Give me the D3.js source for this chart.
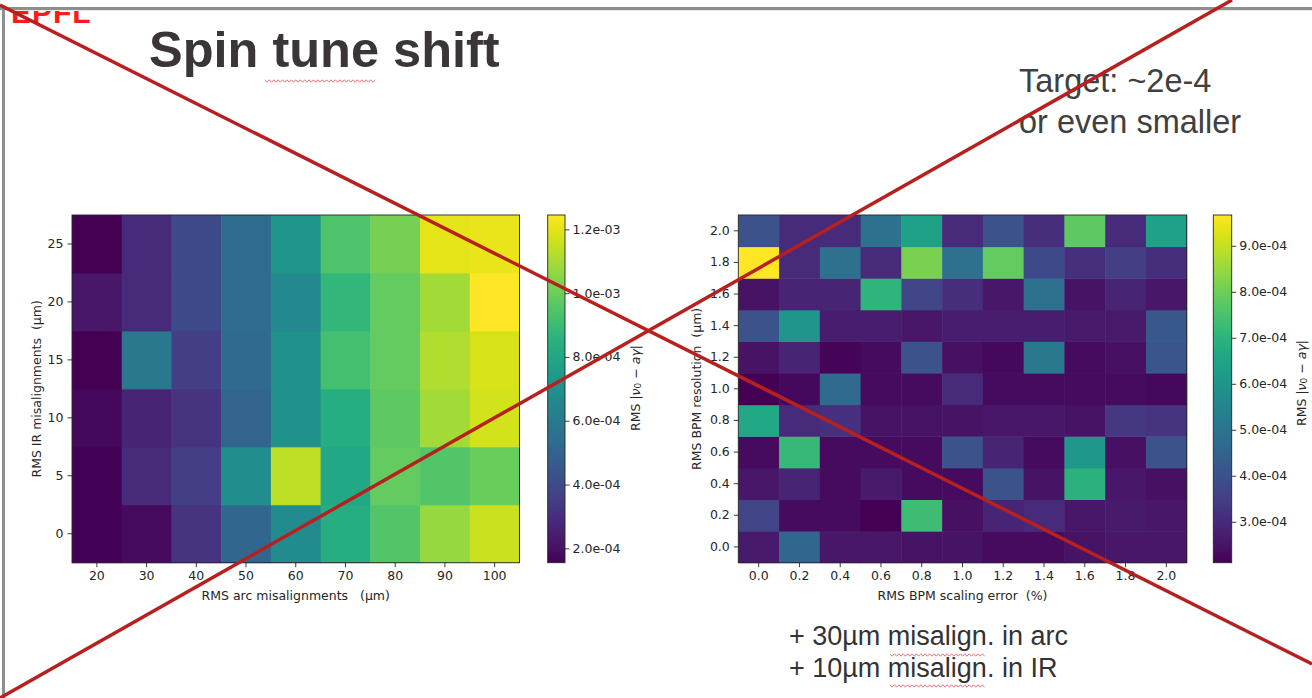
<!DOCTYPE html>
<html>
<head>
<meta charset="utf-8">
<script src="https://cdn.jsdelivr.net/npm/d3@7"></script>
<style>
  html, body { margin: 0; padding: 0; background: #fff; }
  svg { display: block; }
</style>
</head>
<body>
<svg id="slide" width="1312" height="698"></svg>
<script>
// ---- Left map: spin tune shift vs. arc / IR misalignments (values in units of 1e-4)
const arcMis = [20, 30, 40, 50, 60, 70, 80, 90, 100];
const irMis = [0, 5, 10, 15, 20, 25];
const irRows = [
  [1.62, 1.88, 3.19, 5.15, 6.78, 8.31, 9.51, 10.71, 11.58],   // IR 0
  [1.60, 2.86, 3.51, 6.89, 11.36, 8.09, 9.83, 9.51, 9.94],    // IR 5
  [1.77, 2.64, 3.19, 5.04, 7.00, 8.31, 9.73, 10.92, 11.69],   // IR 10
  [1.55, 5.91, 3.51, 5.26, 7.00, 9.18, 9.83, 11.14, 11.80],   // IR 15
  [2.20, 2.86, 3.95, 5.37, 6.67, 8.74, 9.83, 10.92, 12.45],   // IR 20
  [1.58, 2.86, 3.95, 5.37, 7.22, 9.40, 10.16, 12.00, 12.10]   // IR 25
];
const irTicks = [0, 5, 10, 15, 20, 25];
const leftCbTicks = [2e-4, 4e-4, 6e-4, 8e-4, 1.0e-3, 1.2e-3];
const leftCbLabels = ["2.0e-04", "4.0e-04", "6.0e-04", "8.0e-04", "1.0e-03", "1.2e-03"];

// ---- Right map: spin tune shift vs. BPM scaling error / resolution (units of 1e-4)
const bpmScale = ["0.0", "0.2", "0.4", "0.6", "0.8", "1.0", "1.2", "1.4", "1.6", "1.8", "2.0"];
const bpmRes = ["0.0", "0.2", "0.4", "0.6", "0.8", "1.0", "1.2", "1.4", "1.6", "1.8", "2.0"];
const bpmRows = [
  [2.64, 4.60, 2.56, 2.56, 2.49, 2.49, 2.34, 2.34, 2.49, 2.56, 2.56], // res 0.0
  [3.62, 2.34, 2.34, 2.11, 7.33, 2.41, 2.87, 3.02, 2.56, 2.64, 2.56], // res 0.2
  [2.56, 2.87, 2.34, 2.64, 2.34, 2.34, 4.00, 2.49, 6.95, 2.56, 2.41], // res 0.4
  [2.34, 7.18, 2.34, 2.34, 2.34, 4.00, 2.87, 2.34, 6.12, 2.41, 4.00], // res 0.6
  [6.65, 3.02, 3.17, 2.49, 2.49, 2.49, 2.56, 2.56, 2.49, 3.32, 3.24], // res 0.8
  [2.11, 2.26, 4.68, 2.34, 2.34, 3.02, 2.34, 2.34, 2.34, 2.34, 2.26], // res 1.0
  [2.49, 2.87, 2.19, 2.34, 4.00, 2.41, 2.26, 5.13, 2.34, 2.41, 4.08], // res 1.2
  [4.00, 6.04, 2.71, 2.71, 2.56, 2.71, 2.71, 2.71, 2.64, 2.64, 4.15], // res 1.4
  [2.49, 2.87, 2.87, 7.02, 3.62, 3.09, 2.56, 4.91, 2.49, 2.87, 2.56], // res 1.6
  [9.67, 3.02, 4.91, 3.02, 8.16, 4.91, 7.86, 3.77, 3.17, 3.47, 3.09], // res 1.8
  [4.00, 3.02, 3.02, 4.91, 6.42, 3.02, 4.00, 3.09, 7.78, 3.02, 6.42]  // res 2.0
];
const rightCbTicks = [3e-4, 4e-4, 5e-4, 6e-4, 7e-4, 8e-4, 9e-4];
const rightCbLabels = ["3.0e-04", "4.0e-04", "5.0e-04", "6.0e-04", "7.0e-04", "8.0e-04", "9.0e-04"];

const UNIT = 1e-4;

const svg = d3.select("#slide");
const MPL_FONT = "'DejaVu Sans', sans-serif";
const INK = "#262626";

svg.append("rect").attr("width", 1312).attr("height", 698).attr("fill", "#fff");

// slide frame
svg.append("rect").attr("x", 0).attr("y", 7).attr("width", 1312).attr("height", 3.2).attr("fill", "#8e8e8e");
svg.append("rect").attr("x", 2).attr("y", 7).attr("width", 3).attr("height", 691).attr("fill", "#8e8e8e");

// EPFL mark, its upper part hidden behind the frame
svg.append("clipPath").attr("id", "logoClip")
  .append("rect").attr("x", 0).attr("y", 11).attr("width", 120).attr("height", 20);
svg.append("text")
  .attr("clip-path", "url(#logoClip)")
  .attr("x", 11).attr("y", 23)
  .attr("font-family", "'Liberation Sans', Arial, sans-serif")
  .attr("font-weight", 700).attr("font-size", 30)
  .attr("letter-spacing", 1)
  .attr("fill", "#ff1a1a")
  .text("EPFL");

// title
svg.append("text")
  .attr("x", 149).attr("y", 67)
  .attr("font-family", "'Liberation Sans', Arial, sans-serif")
  .attr("font-weight", 700).attr("font-size", 50.5)
  .attr("fill", "#3a3536")
  .text("Spin tune shift");

function squiggle(x0, x1, y) {
  const pts = [];
  let up = true;
  for (let x = x0; x <= x1; x += 2.2) { pts.push([x, y + (up ? -1.2 : 1.2)]); up = !up; }
  svg.append("path").attr("d", d3.line()(pts))
    .attr("fill", "none").attr("stroke", "#e0707a").attr("stroke-width", 1);
}
squiggle(265, 375, 81);

// target note
const note = svg.append("text")
  .attr("font-family", "'Liberation Sans', Arial, sans-serif")
  .attr("font-size", 32.5).attr("fill", "#404040");
note.append("tspan").attr("x", 1019).attr("y", 92).text("Target: ~2e-4");
note.append("tspan").attr("x", 1019).attr("y", 133).text("or even smaller");

// conditions note
const cond = svg.append("text")
  .attr("font-family", "'Liberation Sans', Arial, sans-serif")
  .attr("font-size", 27).attr("fill", "#333");
cond.append("tspan").attr("x", 789).attr("y", 645).text("+ 30µm misalign. in arc");
cond.append("tspan").attr("x", 789).attr("y", 677).text("+ 10µm misalign. in IR");
squiggle(890, 985, 655);
squiggle(890, 985, 686);

// ---------- heatmap with colorbar ----------
function heatmap(cfg) {
  const g = svg.append("g");
  const xs = d3.scaleBand().domain(cfg.xCats).range([cfg.x0, cfg.x1]).padding(0);
  const ys = d3.scaleBand().domain(cfg.yCats.slice().reverse()).range([cfg.y0, cfg.y1]).padding(0);
  const flat = cfg.rows.flat().map(v => v * UNIT);
  const ext = d3.extent(flat);
  const color = d3.scaleSequential(d3.interpolateViridis).domain(ext);

  const cells = [];
  cfg.rows.forEach((row, i) => row.forEach((v, j) => cells.push({ x: cfg.xCats[j], y: cfg.yCats[i], v: v * UNIT })));
  g.selectAll("rect.cell").data(cells).join("rect")
    .attr("class", "cell")
    .attr("x", d => xs(d.x)).attr("y", d => ys(d.y))
    .attr("width", xs.bandwidth() + 0.5).attr("height", ys.bandwidth() + 0.5)
    .attr("fill", d => color(d.v));

  g.append("rect").attr("x", cfg.x0).attr("y", cfg.y0)
    .attr("width", cfg.x1 - cfg.x0).attr("height", cfg.y1 - cfg.y0)
    .attr("fill", "none").attr("stroke", INK).attr("stroke-width", 0.9);

  // axes
  const xAxis = d3.axisBottom(xs).tickSize(4.5).tickPadding(4).tickFormat(cfg.xFmt);
  const gx = g.append("g").attr("transform", `translate(0,${cfg.y1})`).call(xAxis);
  const yAxis = d3.axisLeft(ys).tickSize(4.5).tickPadding(4)
    .tickValues(cfg.yTickVals).tickFormat(cfg.yFmt);
  const gy = g.append("g").attr("transform", `translate(${cfg.x0},0)`).call(yAxis);
  [gx, gy].forEach(a => {
    a.select(".domain").remove();
    a.selectAll("line").attr("stroke", INK).attr("stroke-width", 0.9);
    a.selectAll("text").attr("font-family", MPL_FONT).attr("font-size", 12.5).attr("fill", INK);
  });

  g.append("text")
    .attr("x", (cfg.x0 + cfg.x1) / 2).attr("y", cfg.y1 + 37.5)
    .attr("text-anchor", "middle")
    .attr("font-family", MPL_FONT).attr("font-size", 12.5).attr("fill", INK)
    .attr("xml:space", "preserve")
    .text(cfg.xLabel);
  g.append("text")
    .attr("transform", `translate(${cfg.yLabelX},${(cfg.y0 + cfg.y1) / 2}) rotate(-90)`)
    .attr("text-anchor", "middle")
    .attr("dominant-baseline", "central")
    .attr("font-family", MPL_FONT).attr("font-size", 12.5).attr("fill", INK)
    .attr("xml:space", "preserve")
    .text(cfg.yLabel);

  // colorbar
  const cb = cfg.cb;
  const gradId = cfg.id + "-grad";
  const grad = svg.append("defs").append("linearGradient")
    .attr("id", gradId).attr("x1", 0).attr("y1", 1).attr("x2", 0).attr("y2", 0);
  d3.range(0, 1.0001, 0.02).forEach(t => {
    grad.append("stop").attr("offset", t).attr("stop-color", d3.interpolateViridis(t));
  });
  g.append("rect").attr("x", cb.x0).attr("y", cfg.y0)
    .attr("width", cb.x1 - cb.x0).attr("height", cfg.y1 - cfg.y0)
    .attr("fill", `url(#${gradId})`)
    .attr("stroke", INK).attr("stroke-width", 0.9);
  const cs = d3.scaleLinear().domain(ext).range([cfg.y1, cfg.y0]);
  const cAxis = d3.axisRight(cs).tickValues(cb.ticks).tickSize(4.5).tickPadding(3)
    .tickFormat((d, i) => cb.labels[i]);
  const gc = g.append("g").attr("transform", `translate(${cb.x1},0)`).call(cAxis);
  gc.select(".domain").remove();
  gc.selectAll("line").attr("stroke", INK).attr("stroke-width", 0.9);
  gc.selectAll("text").attr("font-family", MPL_FONT).attr("font-size", 12.5).attr("fill", INK);

  const lab = g.append("text")
    .attr("transform", `translate(${cb.labelX},${cb.labelY}) rotate(-90)`)
    .attr("text-anchor", "middle")
    .attr("dominant-baseline", "central")
    .attr("font-family", MPL_FONT).attr("font-size", 12.5).attr("fill", INK);
  lab.append("tspan").text("RMS |");
  lab.append("tspan").attr("font-style", "italic").text("ν");
  lab.append("tspan").attr("font-size", 9).attr("dy", 3).text("0");
  lab.append("tspan").attr("dy", -3).text(" − ");
  lab.append("tspan").attr("font-style", "italic").text("aγ");
  lab.append("tspan").text("|");
}

heatmap({
  id: "arc",
  xCats: arcMis, yCats: irMis, rows: irRows,
  x0: 72, x1: 519.5, y0: 215, y1: 562.7,
  xFmt: d => d, yTickVals: irTicks, yFmt: d => d,
  xLabel: "RMS arc misalignments   (µm)",
  yLabel: "RMS IR misalignments  (µm)", yLabelX: 36,
  cb: { x0: 547.7, x1: 565, ticks: leftCbTicks, labels: leftCbLabels, labelX: 635, labelY: 388 }
});

heatmap({
  id: "bpm",
  xCats: bpmScale, yCats: bpmRes, rows: bpmRows,
  x0: 738.3, x1: 1186.7, y0: 215, y1: 562.7,
  xFmt: d => d, yTickVals: bpmRes, yFmt: d => d,
  xLabel: "RMS BPM scaling error  (%)",
  yLabel: "RMS BPM resolution  (µm)", yLabelX: 696,
  cb: { x0: 1213.3, x1: 1231.7, ticks: rightCbTicks, labels: rightCbLabels, labelX: 1301, labelY: 383 }
});

// strike-through cross over the slide
const cross = [[[0, 5], [1312, 664]], [[0, 698], [1232, 0]]];
svg.selectAll("path.cross").data(cross).join("path")
  .attr("class", "cross")
  .attr("d", d => d3.line()(d))
  .attr("stroke", "#b8201f").attr("stroke-width", 3.5).attr("fill", "none");
</script>
</body>
</html>
